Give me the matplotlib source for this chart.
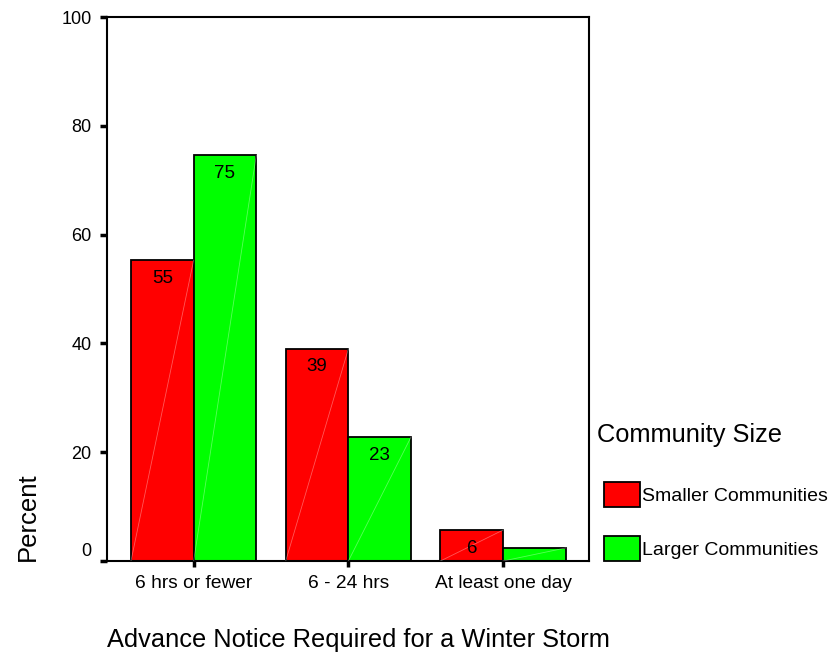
import numpy as np
import matplotlib.pyplot as plt
from matplotlib.transforms import offset_copy

plt.rcParams['font.family'] = ['Liberation Sans', 'DejaVu Sans']

categories = ['6 hrs or fewer', '6 - 24 hrs', 'At least one day']
smaller = [55.3, 39.0, 5.7]
larger = [74.6, 22.8, 2.4]
series_names = ['Smaller Communities', 'Larger Communities']
yticks = [0, 20, 40, 60, 80, 100]

fig = plt.figure(figsize=(8.36, 6.55), dpi=100)
ax = fig.add_axes([107/836, 1 - 561/655, 482/836, 544/655])

x = np.arange(len(categories))
w = 0.405
b1 = ax.bar(x - w/2, smaller, w, color='#ff0000', edgecolor='black', linewidth=1.3, zorder=2)
b2 = ax.bar(x + w/2, larger, w, color='#00ff00', edgecolor='black', linewidth=1.3, zorder=2)

# faint diagonal line in each bar (SPSS look)
for bars in (b1, b2):
    for r in bars:
        x0 = r.get_x()
        ax.plot([x0, x0 + r.get_width()], [0, r.get_height()], color='white',
                lw=0.6, alpha=0.35, zorder=3)
        v = r.get_height()
        if v >= 5:
            ax.annotate(f'{round(v)}', (x0 + r.get_width()/2, v), xytext=(0, -13),
                        textcoords='offset points', ha='center', va='center',
                        fontsize=13.5, zorder=4)

ax.set_xlim(-0.56, 2.555)
ax.set_ylim(0, 100)
ax.set_yticks(yticks)
ax.set_xticks(x)
ax.set_xticklabels(categories, fontsize=13.8)
ax.tick_params(axis='y', direction='out', length=5, width=2.5, labelsize=13, pad=6)
ax.tick_params(axis='x', direction='out', length=4, width=2.5, pad=6)
lab0 = ax.get_yticklabels()[0]
lab0.set_transform(offset_copy(lab0.get_transform(), fig=fig, x=0, y=11, units='dots'))

for s in ax.spines.values():
    s.set_linewidth(1.5)

fig.text(28/836, 1 - 517/655, 'Percent', rotation=90, ha='center', va='center', fontsize=18.5)
fig.text(358/836, 1 - 640/655, 'Advance Notice Required for a Winter Storm',
         ha='center', va='center', fontsize=18.3)

fig.text(597/836, 1 - 435/655, 'Community Size', ha='left', va='center', fontsize=18.3)
leg = ax.legend([b1, b2], series_names, loc='upper left',
                bbox_to_anchor=(604/836, 1 - 482/655), bbox_transform=fig.transFigure,
                frameon=False, fontsize=14, handlelength=1.86, handleheight=1.61,
                handletextpad=0.1, labelspacing=1.5, borderaxespad=0, borderpad=0)

fig.savefig('out.png', dpi=100)
